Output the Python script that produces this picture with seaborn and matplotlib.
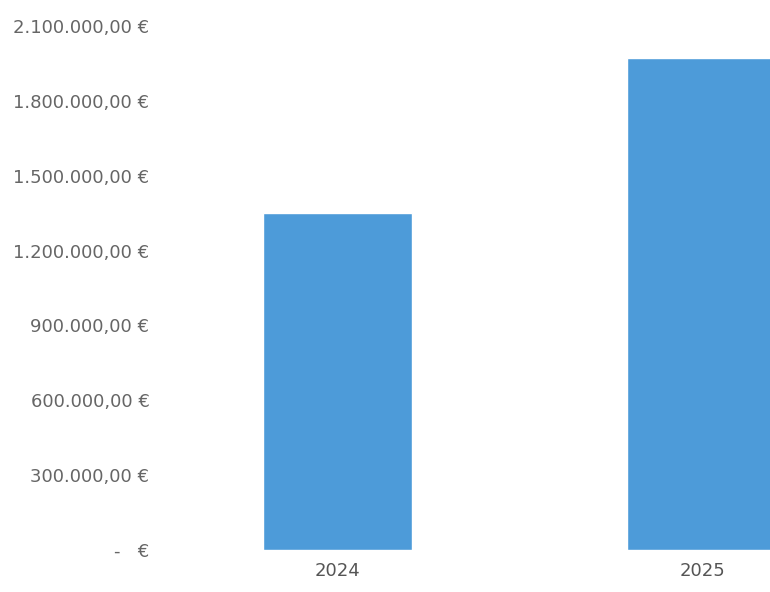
import matplotlib
matplotlib.use("Agg")
import matplotlib.pyplot as plt
import seaborn as sns
import pandas as pd
from matplotlib.ticker import FuncFormatter, MultipleLocator

years = ["2024", "2025"]
amounts = [1350000, 1970000]
tick_step = 300000
y_max = 2100000

sns.set_theme(style="white")
plt.rcParams['font.family'] = ['DejaVu Sans']

df = pd.DataFrame({"year": years, "amount": amounts})

fig = plt.figure(figsize=(7.7, 5.92), dpi=100)
ax = fig.add_axes([155 / 770, 42 / 592, (770 - 155) / 770, (550 - 26) / 592])
sns.barplot(data=df, x="year", y="amount", color="#4d9bd9", saturation=1,
            width=0.41, ax=ax)

ax.set_xlim(-0.5, 1.186)
ax.set_ylim(0, y_max)
ax.yaxis.set_major_locator(MultipleLocator(tick_step))


def fmt(v, pos):
    if abs(v) < 1e-6:
        return "-   €"
    s = f"{v:,.2f}"
    s = s.replace(",", "X").replace(".", ",").replace("X", ".")
    return s + " €"


ax.yaxis.set_major_formatter(FuncFormatter(fmt))
for s in ax.spines.values():
    s.set_visible(False)
ax.set_xlabel("")
ax.set_ylabel("")
ax.tick_params(axis="y", colors="#666666", labelsize=13, length=0, pad=4)
ax.tick_params(axis="x", colors="#555555", labelsize=13, length=0, pad=9)
ax.grid(False)

fig.savefig("out.png", dpi=100, facecolor="white")
